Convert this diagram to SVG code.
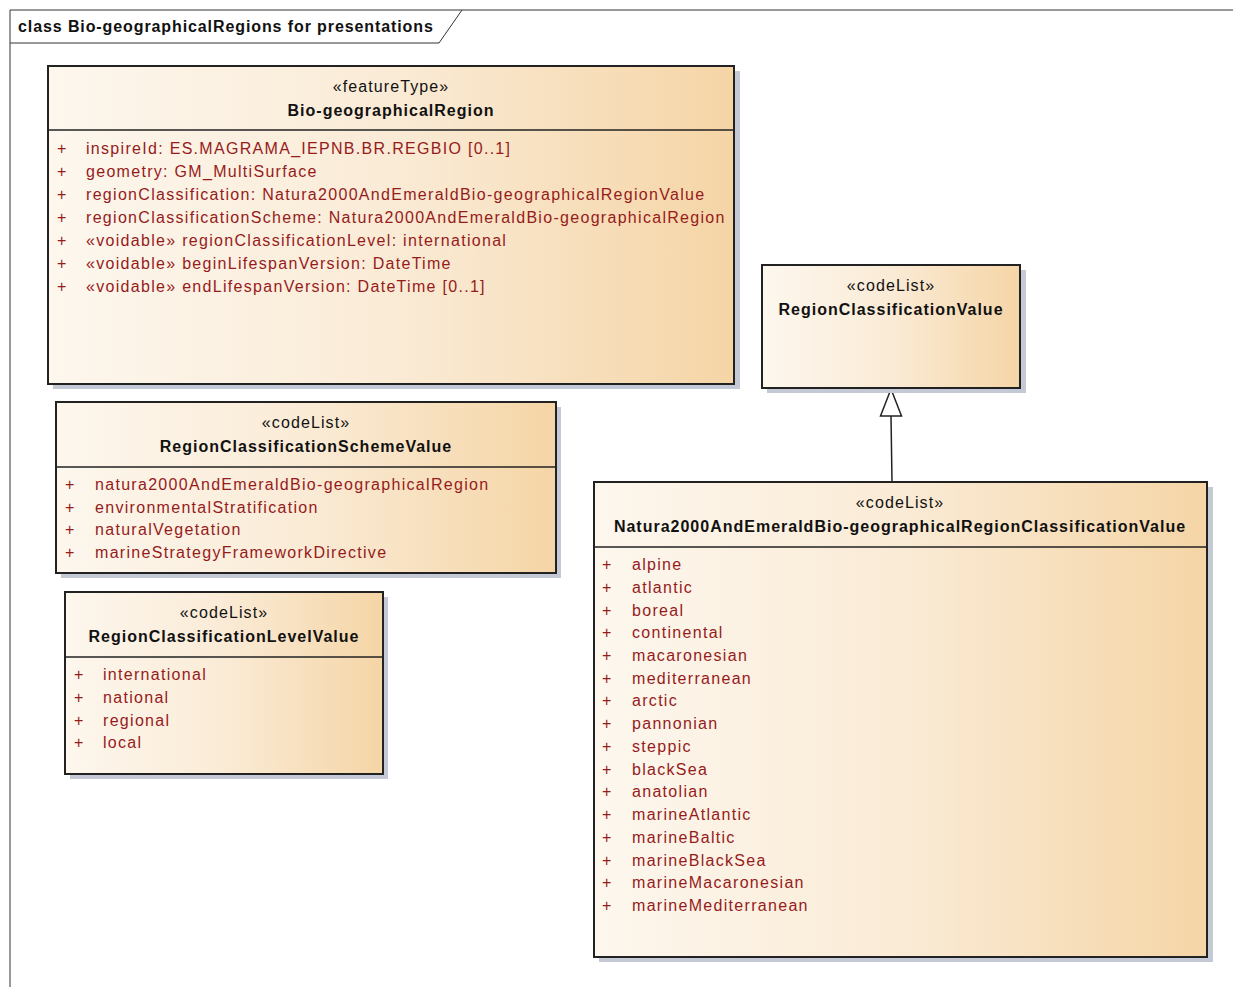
<svg xmlns="http://www.w3.org/2000/svg" width="1233" height="987" viewBox="0 0 1233 987">
<defs>
<linearGradient id="fill" x1="0" y1="0" x2="1" y2="0">
<stop offset="0" stop-color="#fdf7ee"/>
<stop offset="0.5" stop-color="#faebd6"/>
<stop offset="1" stop-color="#f5d5a6"/>
</linearGradient>
<style>
.shadow{fill:#c5c9d6;stroke:none}
.box{fill:url(#fill);stroke:#222;stroke-width:2}
.div{stroke:#222;stroke-width:1.5}
.st{font-family:"Liberation Sans",Arial,sans-serif;font-size:16px;letter-spacing:1.1px;fill:#111;text-anchor:middle}
.nm{font-family:"Liberation Sans",Arial,sans-serif;font-size:16px;font-weight:bold;letter-spacing:1px;fill:#111;text-anchor:middle}
.at{font-family:"Liberation Sans",Arial,sans-serif;font-size:16px;letter-spacing:1.3px;fill:#961b1b}
.pl{font-family:"Liberation Sans",Arial,sans-serif;font-size:16px;fill:#961b1b}
.title{font-family:"Liberation Sans",Arial,sans-serif;font-size:16px;font-weight:bold;letter-spacing:0.9px;fill:#111}
.frame{fill:none;stroke:#333;stroke-width:1}
.conn{fill:none;stroke:#222;stroke-width:1.5}
</style>
</defs>
<rect width="1233" height="987" fill="#ffffff"/>
<g id="frame">
<path class="frame" d="M10,987 L10,10 L1233,10"/>
<path class="frame" d="M10,43 L439,43 L462,10"/>
<text class="title" x="18" y="32">class Bio-geographicalRegions for presentations</text>
</g>
<g id="connectors">
<line class="conn" x1="891" y1="416" x2="892" y2="482"/>
<polygon points="891,389 880.5,416 901.5,416" fill="#ffffff" stroke="#222" stroke-width="1.5"/>
</g>
<g id="Bio-geographicalRegion">
<rect class="shadow" x="53" y="71" width="687" height="318"/>
<rect class="box" x="48" y="66" width="686" height="318"/>
<line class="div" x1="48" y1="130" x2="734" y2="130"/>
<text class="st" x="391" y="92">«featureType»</text>
<text class="nm" x="391" y="116">Bio-geographicalRegion</text>
<g class="pl"><text x="57" y="154">+</text><text x="57" y="177">+</text><text x="57" y="200">+</text><text x="57" y="223">+</text><text x="57" y="246">+</text><text x="57" y="269">+</text><text x="57" y="292">+</text></g>
<text class="at" x="86" y="154">inspireId: ES.MAGRAMA_IEPNB.BR.REGBIO [0..1]</text>
<text class="at" x="86" y="177">geometry: GM_MultiSurface</text>
<text class="at" x="86" y="200">regionClassification: Natura2000AndEmeraldBio-geographicalRegionValue</text>
<text class="at" x="86" y="223">regionClassificationScheme: Natura2000AndEmeraldBio-geographicalRegion</text>
<text class="at" x="86" y="246">«voidable» regionClassificationLevel: international</text>
<text class="at" x="86" y="269">«voidable» beginLifespanVersion: DateTime</text>
<text class="at" x="86" y="292">«voidable» endLifespanVersion: DateTime [0..1]</text>
</g>
<g id="RegionClassificationValue">
<rect class="shadow" x="767" y="270" width="259" height="123"/>
<rect class="box" x="762" y="265" width="258" height="123"/>
<text class="st" x="891" y="291">«codeList»</text>
<text class="nm" x="891" y="315">RegionClassificationValue</text>
</g>
<g id="RegionClassificationSchemeValue">
<rect class="shadow" x="61" y="407" width="500" height="171"/>
<rect class="box" x="56" y="402" width="500" height="171"/>
<line class="div" x1="56" y1="467" x2="556" y2="467"/>
<text class="st" x="306" y="428">«codeList»</text>
<text class="nm" x="306" y="452">RegionClassificationSchemeValue</text>
<g class="pl"><text x="65" y="490">+</text><text x="65" y="513">+</text><text x="65" y="535">+</text><text x="65" y="558">+</text></g>
<text class="at" x="95" y="490">natura2000AndEmeraldBio-geographicalRegion</text>
<text class="at" x="95" y="513">environmentalStratification</text>
<text class="at" x="95" y="535">naturalVegetation</text>
<text class="at" x="95" y="558">marineStrategyFrameworkDirective</text>
</g>
<g id="RegionClassificationLevelValue">
<rect class="shadow" x="70" y="597" width="318" height="182"/>
<rect class="box" x="65" y="592" width="318" height="182"/>
<line class="div" x1="65" y1="657" x2="383" y2="657"/>
<text class="st" x="224" y="618">«codeList»</text>
<text class="nm" x="224" y="642">RegionClassificationLevelValue</text>
<g class="pl"><text x="74" y="680">+</text><text x="74" y="703">+</text><text x="74" y="726">+</text><text x="74" y="748">+</text></g>
<text class="at" x="103" y="680">international</text>
<text class="at" x="103" y="703">national</text>
<text class="at" x="103" y="726">regional</text>
<text class="at" x="103" y="748">local</text>
</g>
<g id="Natura2000AndEmeraldBio-geographicalRegionClassificationValue">
<rect class="shadow" x="599" y="487" width="614" height="475"/>
<rect class="box" x="594" y="482" width="613" height="475"/>
<line class="div" x1="594" y1="547" x2="1207" y2="547"/>
<text class="st" x="900" y="508">«codeList»</text>
<text class="nm" x="900" y="532">Natura2000AndEmeraldBio-geographicalRegionClassificationValue</text>
<g class="pl"><text x="602" y="570">+</text><text x="602" y="592.7">+</text><text x="602" y="615.5">+</text><text x="602" y="638.2">+</text><text x="602" y="660.9">+</text><text x="602" y="683.6">+</text><text x="602" y="706.4">+</text><text x="602" y="729.1">+</text><text x="602" y="751.8">+</text><text x="602" y="774.6">+</text><text x="602" y="797.3">+</text><text x="602" y="820">+</text><text x="602" y="842.7">+</text><text x="602" y="865.5">+</text><text x="602" y="888.2">+</text><text x="602" y="911">+</text></g>
<text class="at" x="632" y="570">alpine</text>
<text class="at" x="632" y="592.7">atlantic</text>
<text class="at" x="632" y="615.5">boreal</text>
<text class="at" x="632" y="638.2">continental</text>
<text class="at" x="632" y="660.9">macaronesian</text>
<text class="at" x="632" y="683.6">mediterranean</text>
<text class="at" x="632" y="706.4">arctic</text>
<text class="at" x="632" y="729.1">pannonian</text>
<text class="at" x="632" y="751.8">steppic</text>
<text class="at" x="632" y="774.6">blackSea</text>
<text class="at" x="632" y="797.3">anatolian</text>
<text class="at" x="632" y="820">marineAtlantic</text>
<text class="at" x="632" y="842.7">marineBaltic</text>
<text class="at" x="632" y="865.5">marineBlackSea</text>
<text class="at" x="632" y="888.2">marineMacaronesian</text>
<text class="at" x="632" y="911">marineMediterranean</text>
</g>
</svg>
